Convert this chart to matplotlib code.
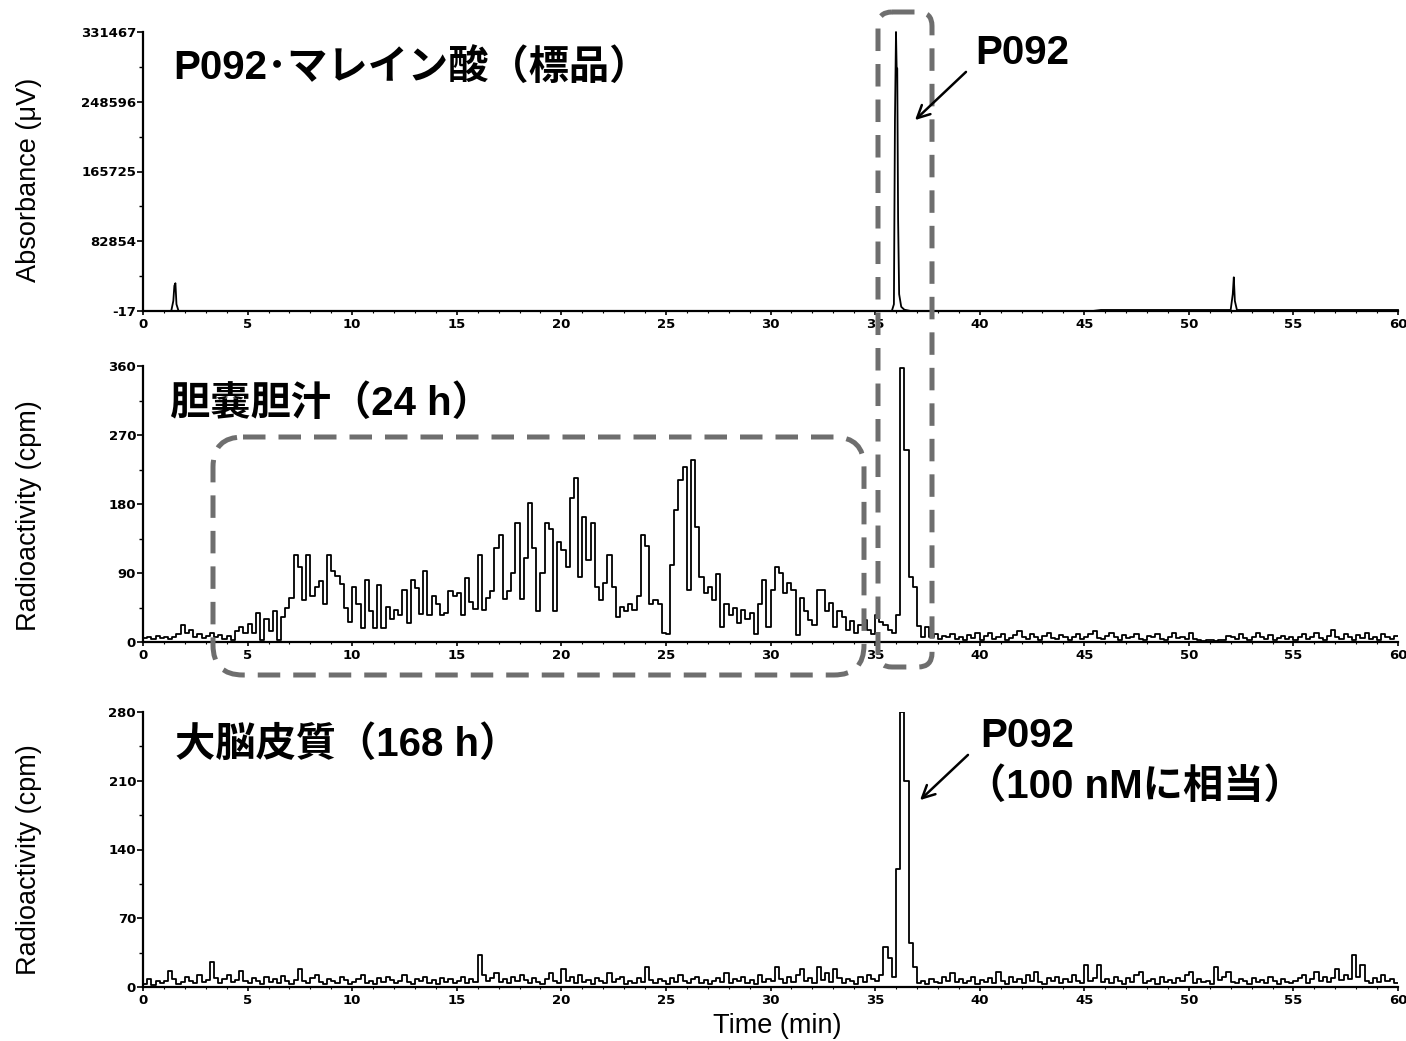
import numpy as np
import matplotlib
matplotlib.use("Agg")
import matplotlib.pyplot as plt
from matplotlib.patches import FancyBboxPatch

# ---------------- data ----------------
# Top panel: UV absorbance trace of the reference standard (time in min, value in µV)
uv_time = [0, 1.35, 1.45, 1.50, 1.55, 1.60, 1.70, 35.80, 35.90, 35.95, 36.00, 36.03,
           36.06, 36.10, 36.15, 36.25, 36.40, 36.70, 45.40, 45.80, 52.00, 52.10, 52.15,
           52.20, 52.30, 60]
uv_abs = [-17, -17, 12000, 30000, 33000, 8000, -17, -17, 8000, 227000, 331467, 290000,
          288000, 110000, 20000, 5000, 1500, -17, -17, 1200, 1200, 20000, 40000,
          12000, 1200, 1200]

# Radioactivity fractions (0.2 min each, 0-60 min)
fraction_width = 0.2
bile_cpm = [
    5, 7, 4, 8, 5, 7, 4, 6, 10, 22, 12, 16, 6, 10, 5, 8, 12, 6, 9, 4, 8, 3, 14, 20, 12,
    24, 12, 38, 2, 30, 14, 40, 2, 32, 45, 58, 113, 98, 55, 113, 60, 72, 80, 50, 113, 92, 86, 76, 45, 26,
    72, 50, 18, 81, 40, 18, 74, 18, 46, 30, 42, 35, 68, 25, 81, 70, 36, 92, 35, 60, 50, 35, 38, 67, 60,
    64, 35, 83, 52, 43, 113, 42, 57, 66, 122, 140, 56, 67, 90, 155, 56, 109, 181, 122, 40, 90, 155, 147, 40, 131,
    120, 98, 188, 214, 85, 163, 107, 155, 72, 55, 77, 113, 72, 33, 46, 40, 50, 42, 60, 140, 125, 50, 55, 50, 12,
    11, 100, 172, 211, 228, 68, 237, 150, 85, 64, 72, 55, 89, 20, 50, 35, 45, 25, 42, 30, 38, 11, 50, 81, 20,
    68, 98, 90, 64, 77, 68, 9, 57, 40, 29, 22, 68, 68, 40, 51, 20, 40, 33, 16, 28, 12, 22, 29, 16, 10,
    35, 26, 22, 16, 12, 35, 358, 250, 85, 72, 21, 6, 20, 6, 10, 4, 8, 6, 10, 4, 7, 3, 9, 5, 12,
    3, 8, 12, 4, 6, 10, 3, 5, 9, 14, 6, 4, 10, 7, 3, 8, 12, 5, 4, 9, 6, 3, 7, 11, 4,
    6, 10, 14, 5, 4, 8, 12, 6, 3, 9, 5, 7, 11, 4, 3, 8, 6, 10, 4, 3, 7, 12, 5, 6, 4,
    12, 4, 2, 1, 3, 2, 1, 2, 3, 8, 6, 4, 10, 5, 3, 7, 12, 6, 4, 9, 3, 5, 8, 4, 6,
    3, 7, 10, 4, 6, 12, 5, 3, 8, 16, 6, 4, 10, 7, 3, 9, 5, 12, 4, 6, 3, 10, 7, 4, 8,
]
brain_cpm = [
    3, 8, 2, 6, 4, 6, 16, 8, 3, 5, 10, 6, 4, 12, 5, 7, 25, 9, 4, 8, 12, 5, 7, 16, 6,
    4, 9, 6, 3, 10, 5, 8, 4, 11, 6, 3, 7, 18, 6, 4, 9, 12, 5, 3, 8, 6, 4, 10, 7, 3,
    5, 8, 12, 4, 6, 3, 9, 5, 10, 7, 4, 6, 12, 5, 3, 8, 6, 10, 4, 7, 3, 9, 5, 8, 4,
    6, 10, 4, 8, 5, 33, 12, 6, 9, 14, 5, 8, 4, 10, 6, 12, 7, 4, 9, 5, 3, 8, 14, 6, 4,
    18, 6, 10, 4, 12, 5, 7, 3, 9, 6, 4, 14, 5, 8, 10, 3, 6, 4, 9, 5, 20, 7, 4, 8, 6,
    3, 9, 5, 12, 6, 4, 8, 10, 4, 7, 3, 6, 9, 5, 14, 4, 8, 6, 10, 4, 7, 3, 12, 5, 8,
    6, 20, 8, 4, 10, 5, 12, 18, 6, 9, 4, 20, 7, 14, 5, 18, 9, 4, 8, 6, 3, 10, 5, 12, 8,
    6, 12, 41, 30, 10, 120, 280, 210, 45, 20, 4, 6, 3, 8, 5, 4, 10, 6, 14, 5, 8, 4, 6, 10, 3,
    7, 5, 9, 4, 15, 6, 3, 10, 5, 8, 4, 12, 6, 15, 5, 3, 9, 6, 10, 4, 8, 5, 12, 6, 4,
    22, 6, 9, 22, 5, 8, 4, 10, 6, 3, 9, 5, 12, 15, 4, 6, 8, 3, 10, 5, 7, 4, 9, 6, 12,
    15, 4, 8, 5, 6, 3, 20, 7, 10, 15, 5, 4, 8, 6, 3, 9, 5, 7, 4, 10, 6, 3, 8, 5, 4,
    6, 9, 12, 4, 8, 15, 6, 10, 5, 9, 18, 7, 12, 8, 33, 10, 22, 6, 4, 9, 5, 12, 6, 8, 4,
]

x_ticks = [0, 5, 10, 15, 20, 25, 30, 35, 40, 45, 50, 55, 60]
uv_ticks = [-17, 82854, 165725, 248596, 331467]
bile_ticks = [0, 90, 180, 270, 360]
brain_ticks = [0, 70, 140, 210, 280]

titles = ["P092･マレイン酸（標品）", "胆嚢胆汁（24 h）", "大脳皮質（168 h）"]
ylabels = ["Absorbance (μV)", "Radioactivity (cpm)", "Radioactivity (cpm)"]
xlabel = "Time (min)"

# ---------------- figure ----------------
W, H = 1406, 1041
fig = plt.figure(figsize=(W / 100, H / 100), dpi=100)
fig.patch.set_facecolor("white")

def px_axes(top, bottom, left=143, right=1398):
    return fig.add_axes([left / W, 1 - bottom / H, (right - left) / W, (bottom - top) / H])

ax_uv = px_axes(32, 311)
ax_bile = px_axes(366, 642)
ax_brain = px_axes(712, 987)

tick_font = dict(family="DejaVu Sans", size=9.5, weight="bold")

def style(ax, yticks):
    for s in ["top", "right"]:
        ax.spines[s].set_visible(False)
    for s in ["left", "bottom"]:
        ax.spines[s].set_linewidth(1.6)
    ax.set_xlim(0, 60)
    ax.set_ylim(yticks[0], yticks[-1])
    ax.set_xticks(x_ticks)
    ax.set_xticks(np.arange(0, 61, 1), minor=True)
    ax.set_yticks(yticks)
    ax.set_yticks([(a + b) / 2 for a, b in zip(yticks[:-1], yticks[1:])], minor=True)
    ax.set_xticklabels([str(v) for v in x_ticks], fontdict=tick_font)
    ax.set_yticklabels([str(v) for v in yticks], fontdict=tick_font)
    ax.tick_params(axis="x", which="major", direction="out", length=3, width=1.2, pad=2)
    ax.tick_params(axis="x", which="minor", direction="out", length=1.5, width=0.8)
    ax.tick_params(axis="y", which="major", direction="out", length=4, width=1.2, pad=1)
    ax.tick_params(axis="y", which="minor", direction="out", length=3, width=1.0)
    ax.patch.set_alpha(0)

ax_uv.plot(uv_time, uv_abs, color="black", lw=1.3, clip_on=False)
style(ax_uv, uv_ticks)

def step_trace(ax, vals):
    t = np.arange(len(vals) + 1) * fraction_width
    v = list(vals) + [vals[-1]]
    ax.step(t, v, where="post", color="black", lw=1.3)

step_trace(ax_bile, bile_cpm)
style(ax_bile, bile_ticks)
step_trace(ax_brain, brain_cpm)
style(ax_brain, brain_ticks)

# ---------------- overlay (pixel coordinates) ----------------
ov = fig.add_axes([0, 0, 1, 1], zorder=10)
ov.set_xlim(0, W)
ov.set_ylim(H, 0)
ov.axis("off")
ov.patch.set_alpha(0)

title_family = ["Liberation Sans", "Noto Sans CJK JP"]
title_pos = [(173, 68), (170, 404), (175, 745)]
for (x, y), t in zip(title_pos, titles):
    ov.text(x, y, t, fontsize=29, fontweight="bold", family=title_family,
            ha="left", va="center")

for y, lab in zip([180, 516, 860], ylabels):
    ov.text(29, y, lab, fontsize=19.5, family="Liberation Sans", rotation=90,
            ha="center", va="center")
ov.text(777, 1026, xlabel, fontsize=19.5, family="Liberation Sans", ha="center", va="center")

# annotations
ov.text(975, 53, "P092", fontsize=29, fontweight="bold", family=title_family,
        ha="left", va="center")
ov.annotate("", xy=(913, 122), xytext=(968, 70),
            arrowprops=dict(arrowstyle="->,head_length=0.9,head_width=0.45", lw=1.8, color="black"))
ov.text(980, 736, "P092", fontsize=29, fontweight="bold", family=title_family,
        ha="left", va="center")
ov.text(966, 787, "（100 nMに相当）", fontsize=29, fontweight="bold", family=title_family,
        ha="left", va="center")
ov.annotate("", xy=(918, 802), xytext=(970, 753),
            arrowprops=dict(arrowstyle="->,head_length=0.9,head_width=0.45", lw=1.8, color="black"))

# dashed rounded boxes
dash = (0, (4.5, 2.6))
box1 = FancyBboxPatch((878, 12), 54, 655, boxstyle="round,pad=0,rounding_size=14",
                      fill=False, ec="#6e6e6e", lw=3.6, ls=dash)
box2 = FancyBboxPatch((213, 437), 651, 238, boxstyle="round,pad=0,rounding_size=30",
                      fill=False, ec="#6e6e6e", lw=3.6, ls=dash)
ov.add_patch(box1)
ov.add_patch(box2)

fig.savefig("out.png", dpi=100, facecolor="white")
